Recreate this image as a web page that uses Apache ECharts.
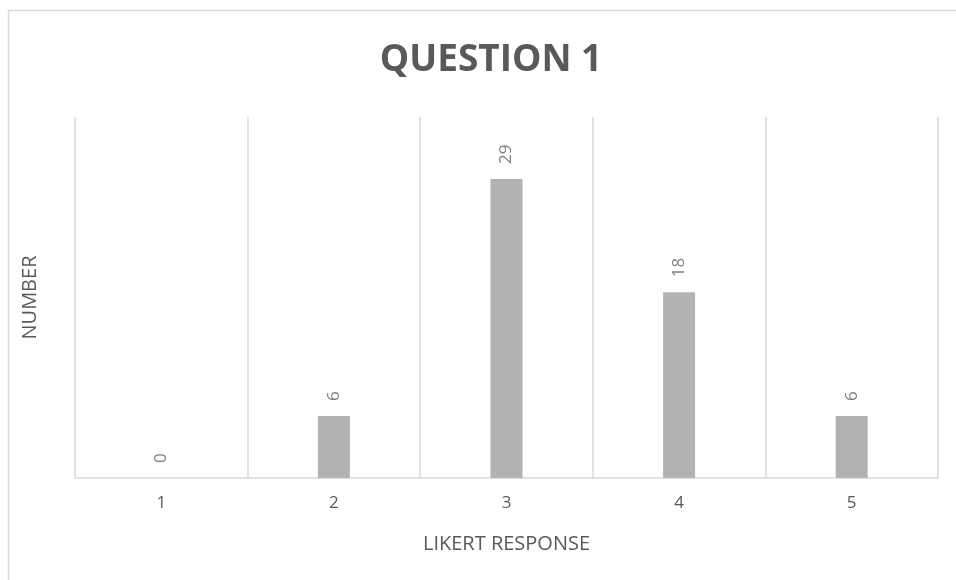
<!DOCTYPE html>
<html>
<head>
    <meta charset="utf-8">
    <title>Question 1</title>
    <script src="https://cdn.jsdelivr.net/npm/echarts@6/dist/echarts.min.js"></script>
    <style>
        html, body { margin: 0; padding: 0; background: #fff; }
        #main { width: 956px; height: 580px; }
    </style>
</head>
<body>
<div id="main"></div>
<script type="text/javascript">
// 数据
var categories = ['1', '2', '3', '4', '5'];
var counts = [0, 6, 29, 18, 6];

var txt = '#595959';
var line = '#d9d9d9';
var font = '"Open Sans", sans-serif';

var myChart = echarts.init(document.getElementById('main'));

myChart.setOption({
    animation: false,
    graphic: [{
        type: 'rect',
        silent: true,
        shape: { x: 8.5, y: 10.5, width: 1200, height: 1200 },
        style: { fill: 'none', stroke: line, lineWidth: 1.5 }
    }],
    title: {
        text: 'QUESTION 1',
        left: 486,
        top: 37,
        textAlign: 'center',
        textStyle: { color: txt, fontFamily: font, fontWeight: 'bold', fontSize: 37 }
    },
    grid: { left: 75, right: 18, top: 117, bottom: 102 },
    xAxis: {
        type: 'category',
        data: categories,
        name: 'LIKERT RESPONSE',
        nameLocation: 'middle',
        nameGap: 56,
        nameTextStyle: { color: txt, fontFamily: font, fontSize: 20 },
        axisLine: { lineStyle: { color: line, width: 1.5 } },
        axisTick: { show: false },
        axisLabel: { color: txt, fontFamily: font, fontSize: 17, margin: 17 },
        splitLine: { show: true, lineStyle: { color: line, width: 1.5 } }
    },
    yAxis: {
        type: 'value',
        min: 0,
        max: 35,
        name: 'NUMBER',
        nameLocation: 'middle',
        nameGap: 35,
        nameTextStyle: { color: txt, fontFamily: font, fontSize: 20 },
        axisLine: { show: false },
        axisTick: { show: false },
        axisLabel: { show: false },
        splitLine: { show: false }
    },
    series: [{
        type: 'bar',
        data: counts,
        barWidth: 32,
        itemStyle: { color: '#b2b2b2' },
        label: {
            show: true,
            position: 'top',
            rotate: 90,
            align: 'left',
            verticalAlign: 'middle',
            distance: 15,
            color: '#808080',
            fontFamily: font,
            fontSize: 17
        }
    }]
});
</script>
</body>
</html>
